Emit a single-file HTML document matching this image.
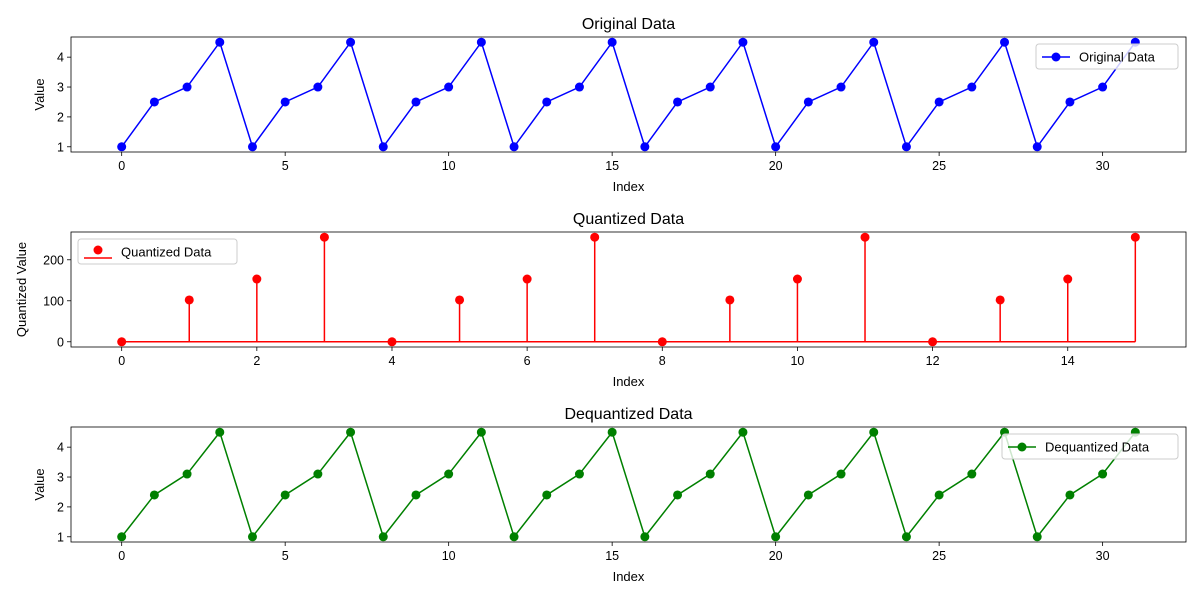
<!DOCTYPE html>
<html><head><meta charset="utf-8"><style>
body{margin:0;background:#fff;}
svg{display:block;font-family:"Liberation Sans","DejaVu Sans",sans-serif;}
</style></head><body>
<svg id="c" width="1200" height="600"></svg>
<script>
const origX = Array.from({length:32},(_,i)=>i);
const origVals = [1,2.5,3,4.5,1,2.5,3,4.5,1,2.5,3,4.5,1,2.5,3,4.5,1,2.5,3,4.5,1,2.5,3,4.5,1,2.5,3,4.5,1,2.5,3,4.5];
const quantVals = [0,102,153,255,0,102,153,255,0,102,153,255,0,102,153,255];
const dequantVals = [1,2.4,3.1,4.5,1,2.4,3.1,4.5,1,2.4,3.1,4.5,1,2.4,3.1,4.5,1,2.4,3.1,4.5,1,2.4,3.1,4.5,1,2.4,3.1,4.5,1,2.4,3.1,4.5];
const xTicks32 = [0,5,10,15,20,25,30];
const xTicks16 = [0,2,4,6,8,10,12,14];
const yTicksVal = [1,2,3,4];
const yTicksQ = [0,100,200];

const NS="http://www.w3.org/2000/svg";
const svg=document.getElementById('c');
function mk(tag,attrs,parent){const e=document.createElementNS(NS,tag);for(const k in attrs)e.setAttribute(k,attrs[k]);(parent||svg).appendChild(e);return e;}
function txt(s,attrs){const t=mk('text',attrs);t.textContent=s;return t;}

function panel(cfg){
  const L=71,R=1186,T=cfg.top,B=cfg.top+115;
  const xs=cfg.x, ys=cfg.y;
  const xmin=Math.min(...xs),xmax=Math.max(...xs),xm=(xmax-xmin)*0.05;
  const ymin=Math.min(...ys,cfg.base!==undefined?cfg.base:Infinity),ymax=Math.max(...ys),ym=(ymax-ymin)*0.05;
  const sx=v=>L+(v-(xmin-xm))/((xmax+xm)-(xmin-xm))*(R-L);
  const sy=v=>B-(v-(ymin-ym))/((ymax+ym)-(ymin-ym))*(B-T);
  const g=mk('g',{});
  
  
  // ticks
  cfg.xt.forEach(v=>{
    mk('line',{x1:sx(v),x2:sx(v),y1:B,y2:B+4,stroke:'#000','stroke-width':0.8},g);
    const t=txt(String(v),{x:sx(v),y:B+18,'text-anchor':'middle','font-size':12.5,fill:'#000'});
    
  });
  cfg.yt.forEach(v=>{
    mk('line',{x1:L-4,x2:L,y1:sy(v),y2:sy(v),stroke:'#000','stroke-width':0.8},g);
    const t=txt(String(v),{x:L-7,y:sy(v)+4.5,'text-anchor':'end','font-size':12.5,fill:'#000'});
    
  });
  const c=cfg.color;
  if(cfg.stem){
    const bl=mk('line',{x1:sx(xmin),x2:sx(xmax),y1:sy(0),y2:sy(0),stroke:c,'stroke-width':1.5},g);
    
    xs.forEach((x,i)=>{
      const s=mk('line',{x1:sx(x),x2:sx(x),y1:sy(0),y2:sy(ys[i]),stroke:c,'stroke-width':1.5},g);
      
    });
  } else {
    const p=mk('polyline',{points:xs.map((x,i)=>sx(x)+','+sy(ys[i])).join(' '),fill:'none',stroke:c,'stroke-width':1.5},g);
    
  }
  xs.forEach((x,i)=>{
    const d=mk('circle',{cx:sx(x),cy:sy(ys[i]),r:4.5,fill:c},g);
    
  });
  mk('rect',{x:L,y:T,width:R-L,height:B-T,fill:'none',stroke:'#000','stroke-width':0.8},g);
  const ti=txt(cfg.title,{x:(L+R)/2,y:T-8,'text-anchor':'middle','font-size':16,fill:'#000'});
  
  const xl=txt('Index',{x:(L+R)/2,y:B+39,'text-anchor':'middle','font-size':13,fill:'#000'});
  
  const yl=txt(cfg.ylab,{x:0,y:0,'text-anchor':'middle','font-size':13,fill:'#000',transform:`translate(${cfg.ylx},${(T+B)/2}) rotate(-90)`});
  
  // legend
  const lg=mk('g',{});
  
  const lx=cfg.lx, ly=T+7, lw=cfg.lw;
  mk('rect',{x:lx,y:ly,width:lw,height:25,rx:3,fill:'#fff','fill-opacity':0.8,stroke:'#ccc'},lg);
  if(cfg.stem){
    mk('line',{x1:lx+6,x2:lx+34,y1:ly+19,y2:ly+19,stroke:c,'stroke-width':1.5},lg);
    mk('circle',{cx:lx+20,cy:ly+11,r:4.5,fill:c},lg);
  } else {
    mk('line',{x1:lx+6,x2:lx+34,y1:ly+13,y2:ly+13,stroke:c,'stroke-width':1.5},lg);
    mk('circle',{cx:lx+20,cy:ly+13,r:4.5,fill:c},lg);
  }
  const lt=mk('text',{x:lx+43,y:ly+17.5,'font-size':13,fill:'#000'},lg);lt.textContent=cfg.title;
}
panel({name:'original',top:37,x:origX,y:origVals,xt:xTicks32,yt:yTicksVal,color:'#0000ff',title:'Original Data',ylab:'Value',ylx:44,lx:1036,lw:142});
panel({name:'quantized',top:232,x:quantVals.map((_,i)=>i),y:quantVals,base:0,stem:true,xt:xTicks16,yt:yTicksQ,color:'#ff0000',title:'Quantized Data',ylab:'Quantized Value',ylx:26,lx:78,lw:159});
panel({name:'dequantized',top:427,x:origX,y:dequantVals,xt:xTicks32,yt:yTicksVal,color:'#008000',title:'Dequantized Data',ylab:'Value',ylx:44,lx:1002,lw:176});
</script>
</body></html>
